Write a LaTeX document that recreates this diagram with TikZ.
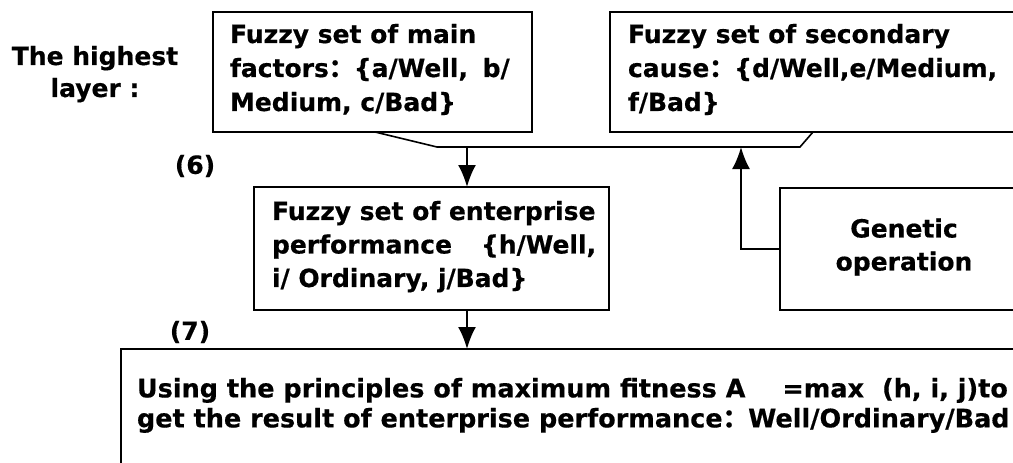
\documentclass[tikz,border=0pt]{standalone}
\usepackage{fontspec}
\setmainfont{DejaVu Sans}[BoldFeatures={FakeBold=0.5}]
\newfontfamily\cjk{Noto Sans CJK SC}[FakeBold=0.5]
\usetikzlibrary{arrows.meta,calc}
\begin{document}
\begin{tikzpicture}[x=1pt,y=-1pt,
  box/.style={draw, line width=2pt, inner sep=0pt, outer sep=0pt},
  txt/.style={inner sep=0pt, outer sep=0pt, align=left, font=\bfseries\fontsize{25}{34}\selectfont},
  ctxt/.style={inner sep=0pt, outer sep=0pt, align=center, font=\bfseries\fontsize{25}{32}\selectfont},
  conn/.style={line width=1.6pt},
  arr/.style={line width=2pt, -{Latex[length=22pt,width=18pt]}}]
\useasboundingbox (0,0) rectangle (1013,463);
\clip (0,0) rectangle (1013,463);

% boxes
\node[box, minimum width=319pt, minimum height=120pt] (b1) at (372.5,72) {};
\node[box, minimum width=420pt, minimum height=120pt] (b2) at (820,72) {};
\node[box, minimum width=355pt, minimum height=123pt] (b3) at (431.5,248.5) {};
\node[box, minimum width=248pt, minimum height=122pt] (gen) at (904,249) {};
\node[box, minimum width=919pt, minimum height=131pt] (bot) at (580.5,414.5) {};

% texts
\node[ctxt, anchor=north] (lay) at (95,46) {The highest\\layer :};
\node[ctxt] (n6) at (195,166) {(6)};
\node[ctxt] (n7) at (190,332) {(7)};

\node[txt, anchor=north west] (t1) at (230,24) {Fuzzy set of main\\factors{\cjk ：}\{a/Well,\hspace{6pt} b/\\Medium, c/Bad\}};
\node[txt, anchor=north west] (t2) at (628,24) {Fuzzy set of secondary\\cause{\cjk ：}\{d/Well,e/Medium,\\f/Bad\}};
\node[txt, anchor=north west, font=\bfseries\fontsize{25}{33.5}\selectfont] (t3) at (272,201) {Fuzzy set of enterprise\\performance\hspace{29pt}\{h/Well,\\i/ Ordinary, j/Bad\}};
\node[ctxt, anchor=north, font=\bfseries\fontsize{25}{33}\selectfont] (tg) at (904,218.5) {Genetic\\operation};
\node[txt, anchor=north west, font=\bfseries\fontsize{25.5}{30}\selectfont] (tb) at (137,378) {Using the principles of maximum fitness A\hspace{37pt}=max\hspace{18pt}(h, i, j)to\\get the result of enterprise performance{\cjk ：}Well/Ordinary/Bad};

% connectors
\coordinate (j1) at (437,147);
\coordinate (j2) at (800,147);
\coordinate (jm) at (467,147);
\coordinate (jg) at (741,147);
\draw[conn] ($(b1.south west)+(162,0)$) -- (j1) -- (j2) -- ($(b2.south west)+(203,0)$);
\draw[arr] (jm) -- (jm |- b3.north);
\draw[arr] (gen.west) -- (jg |- gen.west) -- (jg);
\draw[arr] (b3.south -| jm) -- (bot.north -| jm);
\end{tikzpicture}
\end{document}
